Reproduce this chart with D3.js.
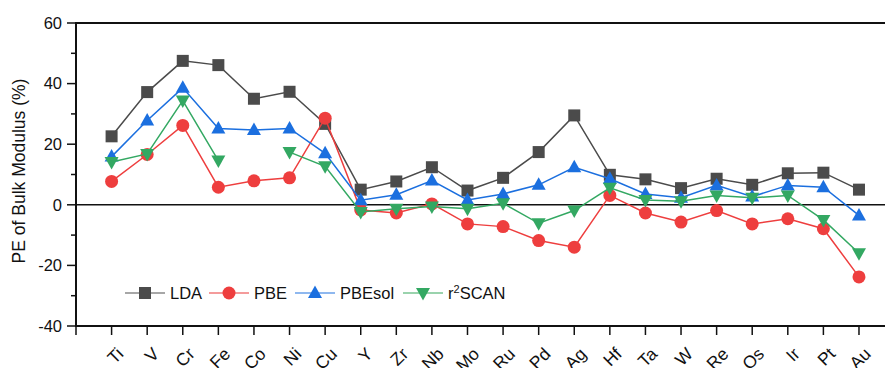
<!DOCTYPE html>
<html>
<head>
<meta charset="utf-8">
<script src="https://cdn.jsdelivr.net/npm/d3@7"></script>
<style>
  html, body { margin: 0; padding: 0; background: #fff; }
  svg { display: block; font-family: Arial, "Liberation Sans", sans-serif; }
</style>
</head>
<body>
<svg id="chart" width="885" height="368"></svg>
<script>
// Elements along the x axis
const elements = ["Ti","V","Cr","Fe","Co","Ni","Cu","Y","Zr","Nb","Mo","Ru","Pd","Ag","Hf","Ta","W","Re","Os","Ir","Pt","Au"];

// Percentage error of bulk modulus for each functional
const lda    = [22.6, 37.2, 47.5, 46.1, 35.0, 37.3, 26.7, 5.0, 7.7, 12.4, 4.7, 8.9, 17.4, 29.5, 9.9, 8.4, 5.5, 8.6, 6.6, 10.4, 10.6, 5.0];
const pbe    = [7.7, 16.6, 26.2, 5.8, 7.9, 8.9, 28.6, -1.7, -2.7, 0.3, -6.3, -7.2, -11.8, -14.0, 3.1, -2.7, -5.7, -1.9, -6.3, -4.6, -7.9, -23.8];
const pbesol = [15.9, 27.8, 38.6, 25.2, 24.7, 25.2, 17.0, 1.5, 3.3, 8.0, 1.6, 3.6, 6.6, 12.4, 8.6, 3.6, 2.3, 6.4, 2.7, 6.4, 5.8, -3.5];
const r2scan = [14.1, 16.8, 34.4, 14.6, null, 17.4, 12.7, -2.4, -1.3, -0.6, -1.3, 0.5, -6.1, -1.9, 5.6, 1.6, 1.2, 3.1, 2.3, 3.1, -5.0, -16.0];

const yMajorTicks = [-40, -20, 0, 20, 40, 60];
const yMinorTicks = [-30, -10, 10, 30, 50];

const series = [
  { name: "LDA",    values: lda,    color: "#4b4b4b", legendLine: "#8a8a8a", shape: "square" },
  { name: "PBE",    values: pbe,    color: "#ee3e3e", legendLine: "#f07a7a", shape: "circle" },
  { name: "PBEsol", values: pbesol, color: "#1b6fdf", legendLine: "#6aa0ea", shape: "up" },
  { name: "r2SCAN", values: r2scan, color: "#33a862", legendLine: "#78c492", shape: "down" }
];

const svg = d3.select("#chart");
const plotLeft = 76, plotTop = 23, plotBottom = 326, step = 35.59;

const x = d3.scaleLinear().domain([0, elements.length + 1]).range([plotLeft, plotLeft + step * (elements.length + 1)]);
const y = d3.scaleLinear().domain([-40, 60]).range([plotBottom, plotTop]);
const xEnd = x(elements.length + 1);

// Frame: left axis, top and bottom borders
const frame = svg.append("g").attr("stroke", "#111").attr("stroke-width", 2).attr("fill", "none");
frame.append("line").attr("x1", plotLeft).attr("x2", plotLeft).attr("y1", plotTop - 1).attr("y2", plotBottom + 1);
frame.append("line").attr("x1", plotLeft).attr("x2", xEnd).attr("y1", plotTop).attr("y2", plotTop);
frame.append("line").attr("x1", plotLeft).attr("x2", xEnd).attr("y1", plotBottom).attr("y2", plotBottom);
frame.append("line").attr("x1", xEnd).attr("x2", xEnd).attr("y1", plotTop).attr("y2", plotBottom);

// Zero reference line
svg.append("line")
  .attr("x1", plotLeft).attr("x2", xEnd)
  .attr("y1", y(0)).attr("y2", y(0))
  .attr("stroke", "#111").attr("stroke-width", 1.5);

// Y axis ticks and labels
const yAxis = svg.append("g");
yAxis.selectAll("line.major").data(yMajorTicks).join("line")
  .attr("class", "major")
  .attr("x1", plotLeft - 9).attr("x2", plotLeft)
  .attr("y1", d => y(d)).attr("y2", d => y(d))
  .attr("stroke", "#111").attr("stroke-width", 1.5);
yAxis.selectAll("line.minor").data(yMinorTicks).join("line")
  .attr("class", "minor")
  .attr("x1", plotLeft - 5).attr("x2", plotLeft)
  .attr("y1", d => y(d)).attr("y2", d => y(d))
  .attr("stroke", "#111").attr("stroke-width", 1.5);
yAxis.selectAll("text").data(yMajorTicks).join("text")
  .attr("x", plotLeft - 14).attr("y", d => y(d))
  .attr("dy", "0.35em")
  .attr("text-anchor", "end")
  .attr("font-size", 16.5)
  .attr("fill", "#111")
  .text(d => d);

// X axis ticks and rotated element labels
const xAxis = svg.append("g");
xAxis.selectAll("line").data(d3.range(0, elements.length + 1)).join("line")
  .attr("x1", d => x(d)).attr("x2", d => x(d))
  .attr("y1", plotBottom).attr("y2", plotBottom + 9)
  .attr("stroke", "#111").attr("stroke-width", 1.5);
xAxis.selectAll("text").data(elements).join("text")
  .attr("transform", (d, i) => `translate(${x(i + 1) + 13},${plotBottom + 29}) rotate(-45)`)
  .attr("text-anchor", "end")
  .attr("font-size", 17.5)
  .attr("fill", "#111")
  .text(d => d);

// Y axis title
svg.append("text")
  .attr("transform", `translate(25,171) rotate(-90)`)
  .attr("text-anchor", "middle")
  .attr("font-size", 17.5)
  .attr("fill", "#111")
  .text("PE of Bulk Modulus (%)");

// Marker drawing helper
function marker(g, shape, color) {
  if (shape === "square") {
    g.append("rect").attr("x", -6).attr("y", -6).attr("width", 12).attr("height", 12).attr("fill", color);
  } else if (shape === "circle") {
    g.append("circle").attr("r", 6.5).attr("fill", color);
  } else if (shape === "up") {
    g.append("path").attr("d", "M0,-7.5L7,5L-7,5Z").attr("fill", color);
  } else {
    g.append("path").attr("d", "M0,7.5L7,-5L-7,-5Z").attr("fill", color);
  }
}

const line = d3.line()
  .defined(d => d.v !== null)
  .x(d => x(d.i + 1))
  .y(d => y(d.v));

series.forEach(s => {
  const pts = s.values.map((v, i) => ({ i, v }));
  const g = svg.append("g");
  g.append("path")
    .attr("d", line(pts))
    .attr("fill", "none")
    .attr("stroke", s.color)
    .attr("stroke-width", 1.5);
  pts.filter(p => p.v !== null).forEach(p => {
    const m = g.append("g").attr("transform", `translate(${x(p.i + 1)},${y(p.v)})`);
    marker(m, s.shape, s.color);
  });
});

// Legend
const legendItems = [
  { s: series[0], x0: 125 },
  { s: series[1], x0: 209 },
  { s: series[2], x0: 295 },
  { s: series[3], x0: 403 }
];
const ly = 293;
legendItems.forEach(({ s, x0 }) => {
  const g = svg.append("g");
  g.append("line").attr("x1", x0).attr("x2", x0 + 40).attr("y1", ly).attr("y2", ly)
    .attr("stroke", s.legendLine).attr("stroke-width", 1.5);
  const m = g.append("g").attr("transform", `translate(${x0 + 20},${ly})`);
  marker(m, s.shape, s.color);
  const t = g.append("text").attr("x", x0 + 45).attr("y", ly).attr("dy", "0.36em")
    .attr("font-size", 16.5).attr("fill", "#111");
  if (s.name === "r2SCAN") {
    t.append("tspan").text("r");
    t.append("tspan").attr("font-size", 11).attr("dy", "-0.55em").text("2");
    t.append("tspan").attr("dy", "0.35em").text("SCAN");
  } else {
    t.text(s.name);
  }
});
</script>
</body>
</html>
